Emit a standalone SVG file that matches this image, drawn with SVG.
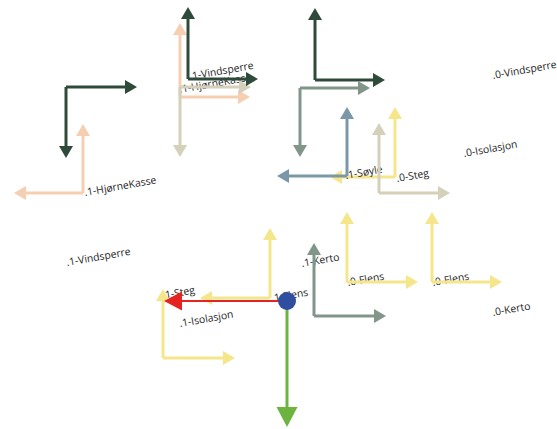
<svg xmlns="http://www.w3.org/2000/svg" width="557" height="429" viewBox="0 0 557 429">
<style>
.ax{fill:none;stroke-width:3}
.dg{stroke:#2f4a3b}.pe{stroke:#f6cfb2}.ta{stroke:#d4d0ba}.gg{stroke:#819589}.sb{stroke:#7c97a8}.ye{stroke:#f5e68b}
text{font-family:"Open Sans","Liberation Sans",sans-serif;font-size:10.4px;fill:#1e1e1e}
</style>
<defs>
<marker id="m-dg" markerUnits="userSpaceOnUse" markerWidth="14" markerHeight="16" refX="0" refY="7" orient="auto" overflow="visible"><path d="M0,0 L12,7 L0,14 z" fill="#2f4a3b"/></marker>
<marker id="m-pe" markerUnits="userSpaceOnUse" markerWidth="14" markerHeight="16" refX="0" refY="7" orient="auto" overflow="visible"><path d="M0,0 L12,7 L0,14 z" fill="#f6cfb2"/></marker>
<marker id="m-ta" markerUnits="userSpaceOnUse" markerWidth="14" markerHeight="16" refX="0" refY="7" orient="auto" overflow="visible"><path d="M0,0 L12,7 L0,14 z" fill="#d4d0ba"/></marker>
<marker id="m-gg" markerUnits="userSpaceOnUse" markerWidth="14" markerHeight="16" refX="0" refY="7" orient="auto" overflow="visible"><path d="M0,0 L12,7 L0,14 z" fill="#819589"/></marker>
<marker id="m-sb" markerUnits="userSpaceOnUse" markerWidth="14" markerHeight="16" refX="0" refY="7" orient="auto" overflow="visible"><path d="M0,0 L12,7 L0,14 z" fill="#7c97a8"/></marker>
<marker id="m-ye" markerUnits="userSpaceOnUse" markerWidth="14" markerHeight="16" refX="0" refY="7" orient="auto" overflow="visible"><path d="M0,0 L12,7 L0,14 z" fill="#f5e68b"/></marker>
</defs>
<rect width="557" height="429" fill="#fff"/>

<g id="f-dg-left">
<path class="ax dg" d="M66,87H125" marker-end="url(#m-dg)"/>
<path class="ax dg" d="M66,87V146" marker-end="url(#m-dg)"/>
</g>
<g id="f-hjornekasse-left">
<text x="85" y="196" transform="rotate(-10 85 196)">.1-HjørneKasse</text>
<path class="ax pe" d="M83,193V136" marker-end="url(#m-pe)"/>
<path class="ax pe" d="M83,193H26" marker-end="url(#m-pe)"/>
</g>
<g id="f-cluster-top">
<text x="190" y="80" transform="rotate(-10 190 80)">.1-Vindsperre</text>
<text x="180" y="93" transform="rotate(-10 180 93)">.1-HjørneKasse</text>
<path class="ax pe" d="M180,97V35" marker-end="url(#m-pe)"/>
<path class="ax pe" d="M180,97H238" marker-end="url(#m-pe)"/>
<path class="ax ta" d="M180,87V145" marker-end="url(#m-ta)"/>
<path class="ax ta" d="M180,87H239" marker-end="url(#m-ta)"/>
<path class="ax dg" d="M188,79V19" marker-end="url(#m-dg)"/>
<path class="ax dg" d="M188,79H246" marker-end="url(#m-dg)"/>
</g>
<g id="f-dg-right">
<path class="ax dg" d="M315,80V20" marker-end="url(#m-dg)"/>
<path class="ax dg" d="M315,80H373" marker-end="url(#m-dg)"/>
</g>
<g id="f-gg-top">
<path class="ax gg" d="M300,88H358" marker-end="url(#m-gg)"/>
<path class="ax gg" d="M300,88V145" marker-end="url(#m-gg)"/>
</g>
<g id="f-steg-0">
<text x="397" y="182" transform="rotate(-10 397 182)">.0-Steg</text>
<path class="ax ye" d="M395,177V119" marker-end="url(#m-ye)"/>
<path class="ax ye" d="M395,177H342" marker-end="url(#m-ye)"/>
</g>
<g id="f-soyle">
<text x="346" y="179" transform="rotate(-10 346 179)">.1-Søyle</text>
<path class="ax sb" d="M347,176V119" marker-end="url(#m-sb)"/>
<path class="ax sb" d="M347,176H289" marker-end="url(#m-sb)"/>
</g>
<g id="f-ta-right">
<path class="ax ta" d="M379,193V135" marker-end="url(#m-ta)"/>
<path class="ax ta" d="M379,193H438" marker-end="url(#m-ta)"/>
</g>
<g id="l-vindsperre-0"><text x="493" y="79" transform="rotate(-10 493 79)">.0-Vindsperre</text></g>
<g id="l-isolasjon-0"><text x="464" y="157" transform="rotate(-10 464 157)">.0-Isolasjon</text></g>
<g id="f-flens-0a">
<text x="348" y="286" transform="rotate(-10 348 286)">.0-Flens</text>
<path class="ax ye" d="M347,282V224" marker-end="url(#m-ye)"/>
<path class="ax ye" d="M347,282H406" marker-end="url(#m-ye)"/>
</g>
<g id="f-flens-0b">
<text x="433" y="286" transform="rotate(-10 433 286)">.0-Flens</text>
<path class="ax ye" d="M432,282V224" marker-end="url(#m-ye)"/>
<path class="ax ye" d="M432,282H490" marker-end="url(#m-ye)"/>
</g>
<g id="f-kerto-1">
<text x="302" y="267" transform="rotate(-10 302 267)">.1-Kerto</text>
<path class="ax gg" d="M314,316V255" marker-end="url(#m-gg)"/>
<path class="ax gg" d="M314,316H374" marker-end="url(#m-gg)"/>
</g>
<g id="l-kerto-0"><text x="493" y="316" transform="rotate(-10 493 316)">.0-Kerto</text></g>
<g id="l-vindsperre-1"><text x="67" y="266" transform="rotate(-10 67 266)">.1-Vindsperre</text></g>
<g id="l-isolasjon-1"><text x="180" y="327" transform="rotate(-10 180 327)">.1-Isolasjon</text></g>
<g id="f-flens-1">
<text x="272" y="302" transform="rotate(-10 272 302)">.1-Flens</text>
<path class="ax ye" d="M270,298V240" marker-end="url(#m-ye)"/>
<path class="ax ye" d="M270,298H212" marker-end="url(#m-ye)"/>
</g>
<g id="f-steg-1">
<text x="163" y="299" transform="rotate(-10 163 299)">.1-Steg</text>
<path class="ax ye" d="M163,358V301" marker-end="url(#m-ye)"/>
<path class="ax ye" d="M163,358H223" marker-end="url(#m-ye)"/>
</g>
<g id="main-axes">
<path d="M287,301H181" stroke="#e52421" stroke-width="2" fill="none"/>
<path d="M182,291.5L164,301L182,310.5z" fill="#e52421"/>
<path d="M287,301V408" stroke="#6cb43f" stroke-width="3" fill="none"/>
<path d="M276.5,407L287,427L297.5,407z" fill="#6cb43f"/>
<circle cx="287" cy="301" r="9" fill="#2f4ea0"/>
</g>
</svg>
